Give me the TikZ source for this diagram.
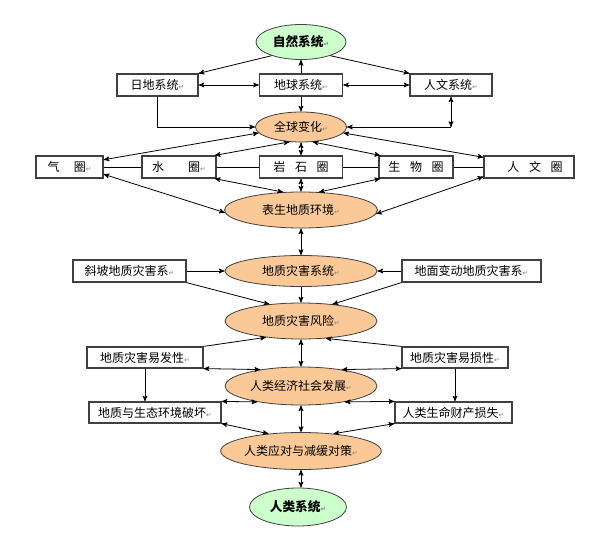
\documentclass[tikz,border=0pt]{standalone}
\usepackage{fontspec}
\setmainfont{Noto Sans CJK SC}
\newfontfamily\symfont{DejaVu Sans}
\usetikzlibrary{arrows}
\usetikzlibrary{shapes.geometric}
\usepackage{xcolor}
\definecolor{greenfill}{HTML}{CCFFCC}
\definecolor{orangefill}{HTML}{FBC898}
\definecolor{boxline}{HTML}{404040}
\newcommand{\rmark}{{\color{gray}\symfont\fontsize{5pt}{5pt}\selectfont ↵}}

\tikzset{
  sbox/.style={draw=boxline, line width=0.9pt, fill=white, inner sep=0, minimum height=16.5pt, font=\fontsize{9pt}{10pt}\selectfont},
  oval/.style={ellipse, draw=black!75, line width=0.6pt, fill=orangefill, inner sep=0, font=\fontsize{9pt}{10pt}\selectfont},
  goval/.style={oval, fill=greenfill, font=\fontsize{9.5pt}{10pt}\selectfont\bfseries},
  link/.style={black, line width=0.6pt, >=stealth'}
}

\begin{document}
\begin{tikzpicture}[x=0.75pt,y=-0.75pt]
\useasboundingbox (0,0) rectangle (600,539);
% top part
\node[goval, minimum width=67.5pt, minimum height=26.25pt] (zr) at (301,42) {自然系统\rmark};
\node[sbox, minimum width=60.75pt] (rd) at (157.5,85) {日地系统\rmark};
\node[sbox, minimum width=62.25pt] (dq) at (301,85) {地球系统\rmark};
\node[sbox, minimum width=61.5pt] (rw) at (451,85) {人文系统\rmark};
\node[oval, minimum width=68.25pt, minimum height=22.5pt] (qq) at (301,127) {全球变化\rmark};
% spheres
\node[sbox, minimum width=50.25pt] (qi) at (69.5,167) {气\hspace{1.2em}圈\rmark};
\node[sbox, minimum width=55.5pt] (sh) at (179,167) {水\hspace{2em}圈\rmark};
\node[sbox, minimum width=62.25pt] (ys) at (301,167) {岩\hspace{0.8em}石\hspace{0.8em}圈};
\node[sbox, minimum width=55.5pt] (sw) at (416,167) {生\hspace{0.8em}物\hspace{0.8em}圈};
\node[sbox, minimum width=67.5pt] (rwq) at (529,167) {\hspace{1em}人\hspace{0.8em}文\hspace{0.8em}圈};
\node[oval, minimum width=114.75pt, minimum height=27pt] (bs) at (301,210) {表生地质环境\rmark};
% hazards
\node[sbox, minimum width=84.75pt] (xp) at (129.5,271) {斜坡地质灾害系\rmark};
\node[oval, minimum width=114pt, minimum height=23.25pt] (zh) at (301,271) {地质灾害系统\rmark};
\node[sbox, minimum width=104.25pt] (dm) at (471.5,271) {地面变动地质灾害系\rmark};
\node[oval, minimum width=114pt, minimum height=27pt] (fx) at (301,321) {地质灾害风险\rmark};
\node[sbox, minimum width=87pt, minimum height=15.75pt] (yf) at (145,357.5) {地质灾害易发性\rmark};
\node[sbox, minimum width=79.5pt, minimum height=15.75pt] (ysn) at (455,357.5) {地质灾害易损性\rmark};
\node[oval, minimum width=114pt, minimum height=28.5pt] (jj) at (301,386) {人类经济社会发展\rmark};
\node[sbox, minimum width=99pt, minimum height=15.75pt] (ph) at (155,412.5) {地质与生态环境破坏\rmark};
\node[sbox, minimum width=87.75pt, minimum height=15.75pt] (ss) at (453.5,412.5) {人类生命财产损失\rmark};
\node[oval, minimum width=114pt, minimum height=27.75pt] (yd) at (301,451) {人类应对与减缓对策\rmark};
\node[goval, minimum width=72.75pt, minimum height=28.5pt] (rl) at (298,507) {人类系统\rmark};
\coordinate (c1) at (rd.south |- qq.west);
\coordinate (c2) at (rw.south |- qq.east);

\begin{scope}[link]
\draw[->] (zr.205) -- (rd.north east);
\draw[->] (zr.-25) -- (rw.north west);
\draw[->] (dq.north) -- (zr.south);
\draw[<->] (rd.east) -- (dq.west);
\draw[<->] (dq.east) -- (rw.west);
\draw[->] (dq.south) -- (qq.north);
\draw[->] (rd.south) -- (c1) -- (qq.west);
\draw[<->] (rw.south) -- (c2);
\draw[->] (c2) -- (qq.east);
% sphere row
\foreach \a/\b in {qi/sh,sh/ys,ys/sw,sw/rwq}
  \draw (\a.east) -- (\b.west);
\foreach \s/\p in {qi.12/qq.188,sh.18/qq.232,ys.north/qq.south,sw.162/qq.-52,rwq.168/qq.-8}
  \draw[<->] (\s) -- (\p);
\foreach \s/\p in {qi.-12/bs.182,sh.-18/bs.135,ys.south/bs.north,sw.198/bs.45,rwq.192/bs.-3}
  \draw[<->] (\s) -- (\p);
\draw[<->] (bs.south) -- (zh.north);
% hazard part
\draw[->] (xp.east) -- (zh.west);
\draw[->] (dm.west) -- (zh.east);
\draw[->] (zh.south) -- (fx.north);
\draw[->] (xp.south east) -- (fx.152);
\draw[->] (dm.south west) -- (fx.28);
\draw[->] (yf.north east) -- (fx.205);
\draw[->] (ysn.north west) -- (fx.-35);
\draw[<->] (fx.south) -- (jj.north);
\draw[<->] (yf.south east) -- (jj.158);
\draw[<->] (ysn.south west) -- (jj.22);
\draw[->] (yf.south) -- (yf.south |- ph.north);
\draw[->] (ysn.south) -- (ysn.south |- ss.north);
\draw[<->] (jj.200) -- (ph.north east);
\draw[<->] (jj.-20) -- (ss.north west);
\draw[<->] (jj.south) -- (yd.north);
\draw[<->] (ph.south east) -- (yd.152);
\draw[<->] (ss.south west) -- (yd.28);
\draw[<->] (yd.south) -- (yd.south |- rl.north);
\end{scope}
\end{tikzpicture}
\end{document}
